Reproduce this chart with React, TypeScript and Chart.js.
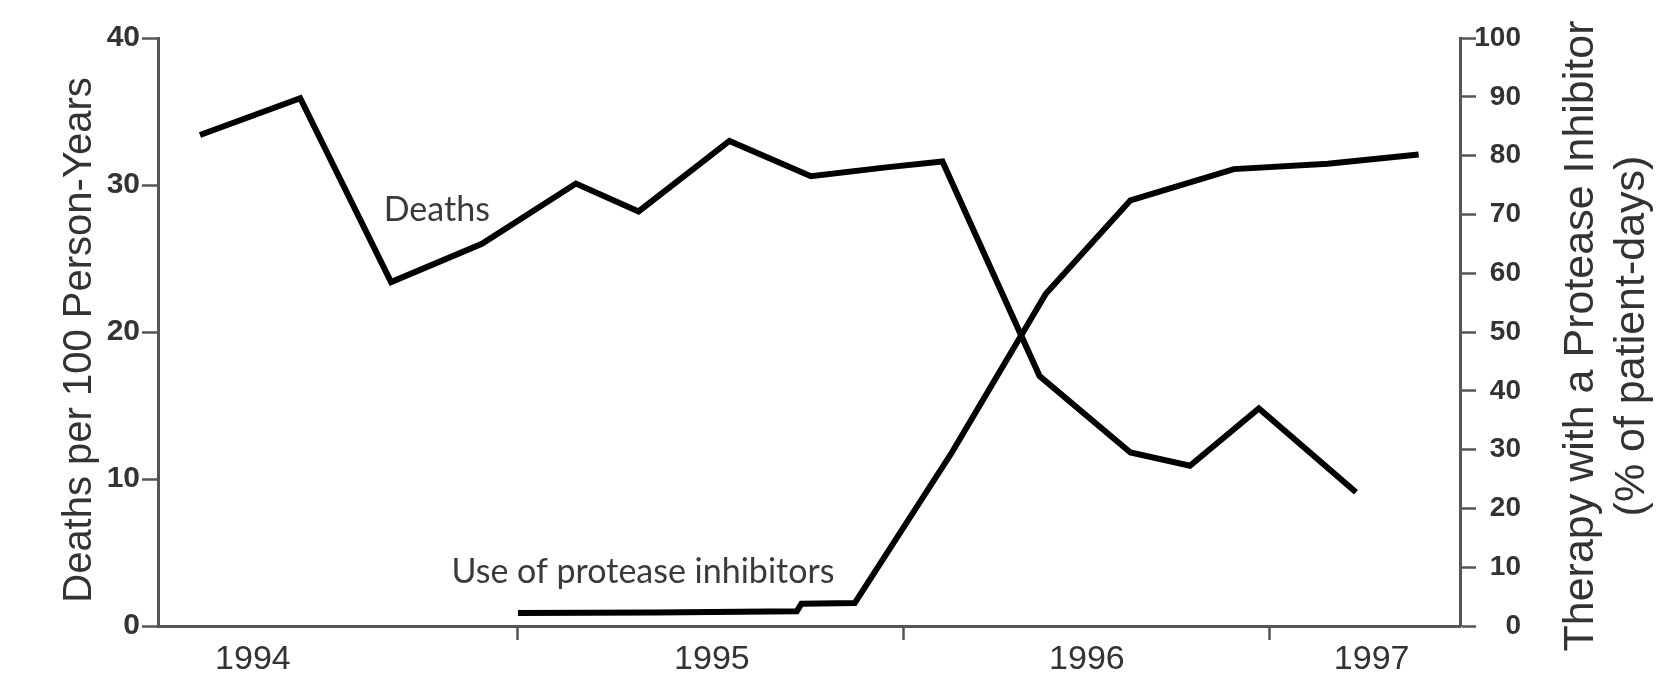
import React, { useEffect, useRef } from 'react';
import { Chart, registerables } from 'chart.js';

Chart.register(...registerables);

// x = months since 1 January 1994
const deathsMonths = [1.5, 4.7, 7.6, 10.5, 13.5, 15.5, 18.4, 21.0, 23.4, 25.2, 28.3, 31.2, 33.1, 35.3, 38.4];
const deathsPer100 = [33.4, 35.9, 23.4, 26.0, 30.1, 28.2, 33.0, 30.6, 31.2, 31.6, 17.0, 11.8, 10.9, 14.8, 9.1];

// Use of protease inhibitors (% of patient-days)
const piMonths = [11.65, 16.0, 20.55, 20.7, 22.4, 25.5, 28.5, 31.2, 34.5, 37.5, 40.4];
const piPercent = [2.2, 2.3, 2.5, 3.8, 3.9, 29.5, 56.5, 72.4, 77.7, 78.6, 80.2];

// x-axis: year boundary tick marks and year labels
const yearBoundaryMonths = [11.65, 23.97, 35.65];
const yearLabels = ['1994', '1995', '1996', '1997'];
const yearLabelMonths = [3.19, 17.84, 29.81, 38.9];

const leftTicks = [0, 10, 20, 30, 40];
const rightTicks = [0, 10, 20, 30, 40, 50, 60, 70, 80, 90, 100];

const leftTitle = 'Deaths per 100 Person-Years';
const rightTitle = ['Therapy with a Protease Inhibitor', '(% of patient-days)'];
const deathsNote = { text: 'Deaths', x: 9.06, y: 28.3 };
const piNote = { text: 'Use of protease inhibitors', x: 15.64, y: 3.67 };

const AXIS = '#555';
const TEXT = '#333';

const textPlugin = {
  id: 'textPlugin',
  afterDatasetsDraw(chart: any) {
    const { ctx, chartArea, scales } = chart;
    ctx.save();
    ctx.fillStyle = '#3a3a3a';
    ctx.textAlign = 'center';
    ctx.textBaseline = 'middle';
    ctx.font = '34px Lato';
    ctx.fillText(deathsNote.text, scales.x.getPixelForValue(deathsNote.x), scales.y.getPixelForValue(deathsNote.y));
    ctx.fillText(piNote.text, scales.x.getPixelForValue(piNote.x), scales.y.getPixelForValue(piNote.y));

    const midY = (chartArea.top + chartArea.bottom) / 2;
    ctx.fillStyle = TEXT;
    ctx.font = '40px "Liberation Sans"';
    ctx.save();
    ctx.translate(chartArea.left - 78, midY + 8);
    ctx.rotate(-Math.PI / 2);
    ctx.fillText(leftTitle, 0, 0);
    ctx.restore();

    ctx.font = '43px "Liberation Sans"';
    rightTitle.forEach((line, i) => {
      ctx.save();
      ctx.translate(chartArea.right + 121 + i * 51, midY + 4);
      ctx.rotate(-Math.PI / 2);
      ctx.fillText(line, 0, 0);
      ctx.restore();
    });
    ctx.restore();
  },
};

export default function App() {
  const ref = useRef<HTMLCanvasElement | null>(null);

  useEffect(() => {
    if (!ref.current) return;
    const xTickValues = [...yearBoundaryMonths, ...yearLabelMonths].sort((a, b) => a - b);
    const chart = new Chart(ref.current, {
      type: 'line',
      data: {
        datasets: [
          {
            label: 'Deaths',
            data: deathsMonths.map((m, i) => ({ x: m, y: deathsPer100[i] })),
            borderColor: '#000',
            borderWidth: 6,
            pointRadius: 0,
            tension: 0,
            yAxisID: 'y',
          },
          {
            label: 'Use of protease inhibitors',
            data: piMonths.map((m, i) => ({ x: m, y: piPercent[i] })),
            borderColor: '#000',
            borderWidth: 6,
            pointRadius: 0,
            tension: 0,
            yAxisID: 'y1',
          },
        ],
      },
      options: {
        animation: false,
        responsive: false,
        devicePixelRatio: 1,
        layout: { padding: { left: 0, right: 150, top: 38, bottom: 0 } },
        plugins: { legend: { display: false }, tooltip: { enabled: false } },
        scales: {
          x: {
            type: 'linear',
            min: 0.16,
            max: 41.72,
            afterBuildTicks: (scale: any) => {
              scale.ticks = xTickValues.map((v) => ({ value: v }));
            },
            afterFit: (scale: any) => {
              scale.height = 58;
            },
            ticks: {
              autoSkip: false,
              maxRotation: 0,
              padding: -1,
              color: TEXT,
              font: { family: '"Liberation Sans"', size: 34 },
              callback: (value: any) => {
                const idx = yearLabelMonths.indexOf(value);
                return idx >= 0 ? yearLabels[idx] : '';
              },
            },
            grid: {
              drawOnChartArea: false,
              tickLength: 14,
              tickWidth: 2.5,
              tickColor: (c: any) => (c.tick && yearBoundaryMonths.includes(c.tick.value) ? AXIS : 'rgba(0,0,0,0)'),
            },
            border: { display: true, color: AXIS, width: 3 },
          },
          y: {
            position: 'left',
            min: 0,
            max: 40,
            afterBuildTicks: (scale: any) => {
              scale.ticks = leftTicks.map((v) => ({ value: v }));
            },
            afterFit: (scale: any) => {
              scale.width = 158;
            },
            ticks: {
              padding: 2,
              color: TEXT,
              font: { family: '"Liberation Sans"', size: 30, weight: 'bold' },
            },
            grid: { drawOnChartArea: false, tickLength: 16, tickWidth: 2.5, tickColor: AXIS },
            border: { display: true, color: AXIS, width: 3 },
          },
          y1: {
            position: 'right',
            min: 0,
            max: 100,
            afterBuildTicks: (scale: any) => {
              scale.ticks = rightTicks.map((v) => ({ value: v }));
            },
            afterFit: (scale: any) => {
              scale.width = 61;
            },
            ticks: {
              padding: 4,
              crossAlign: 'far',
              color: TEXT,
              font: { family: '"Liberation Sans"', size: 28, weight: 'bold' },
            },
            grid: { drawOnChartArea: false, tickLength: 16, tickWidth: 2.5, tickColor: AXIS },
            border: { display: true, color: AXIS, width: 3 },
          },
        },
      },
      plugins: [textPlugin],
    } as any);
    return () => chart.destroy();
  }, []);

  return (
    <div style={{ position: 'fixed', left: 0, top: 0, width: 1671, height: 684, background: '#fff' }}>
      <canvas ref={ref} width={1671} height={684} style={{ display: 'block' }} />
    </div>
  );
}
